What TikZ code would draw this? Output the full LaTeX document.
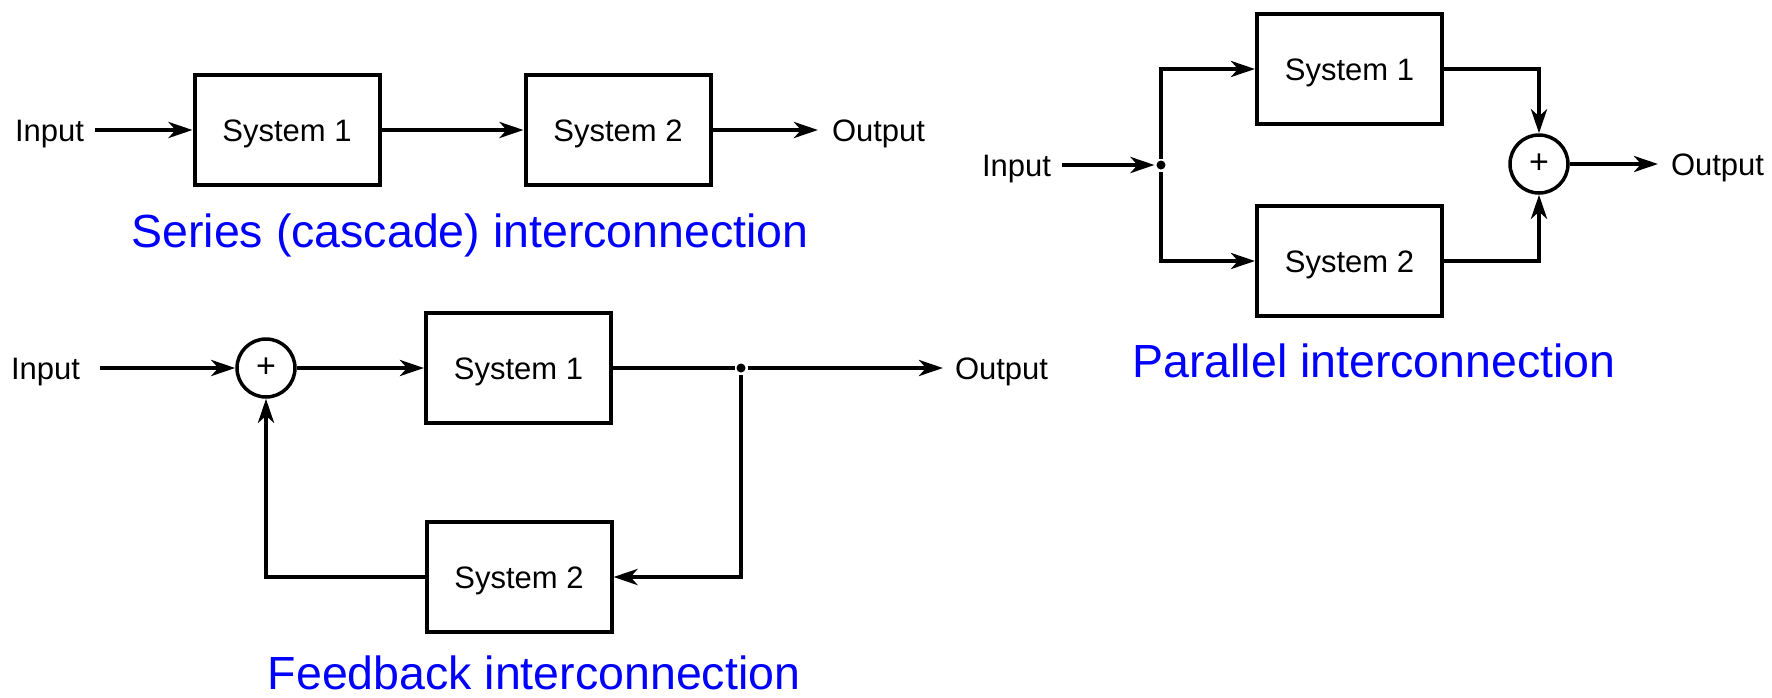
\documentclass[tikz,border=0pt]{standalone}
\usepackage{fontspec}
\setmainfont{Liberation Sans}
\usetikzlibrary{arrows.meta,positioning}

\begin{document}
\begin{tikzpicture}[x=1pt, y=-1pt, line width=4pt,
	sys/.style={draw, minimum width=185pt, minimum height=110pt, inner sep=0pt, text height=22pt, text depth=0pt, font=\fontsize{31}{36}\selectfont},
	lbl/.style={inner sep=0pt, text height=22pt, text depth=0pt, font=\fontsize{31}{36}\selectfont},
	sumnode/.style={draw, circle, minimum size=58pt, inner sep=0pt, line width=3.5pt, font=\fontsize{34}{38}\selectfont},
	dotnode/.style={circle, fill, minimum size=9pt, inner sep=0pt},
	conn/.style={-{Stealth[length=24pt,width=16pt,inset=7pt]}},
	capt/.style={text=blue, inner sep=0pt, text height=33pt, text depth=0pt, font=\fontsize{46.5}{52}\selectfont}]
	\useasboundingbox (0,0) rectangle (1772,697);
	% series
	\node[sys]              (s1)   at (287,130)    {System 1};
	\node[sys]              (s2)   at (618,130)    {System 2};
	\node[lbl, anchor=east] (sin)  at (86,130)     {Input};
	\node[lbl, anchor=west] (sout) at (830,130)    {Output};
	\node[capt]             (scap) at (470,231)    {Series (cascade) interconnection};
	\draw[conn] (sin.east) ++(9,0) -- (s1);
	\draw[conn] (s1) -- (s2);
	\draw[conn] (s2) -- ([xshift=-12pt]sout.west);
	% parallel
	\node[lbl, anchor=east] (pin)  at (1053,165)   {Input};
	\node[dotnode]          (pj)   at (1161,165)   {};
	\node[sys]              (p1)   at (1349.5,69)  {System 1};
	\node[sys]              (p2)   at (1349.5,261) {System 2};
	\node[sumnode]          (ps)   at (1539,164)   {+};
	\node[lbl, anchor=west] (pout) at (1669,164)   {Output};
	\node[capt]             (pcap) at (1374,361)   {Parallel interconnection};
	\draw[conn] (pin.east) ++(9,0) -- (pj);
	\draw[conn] (pj) |- (p1);
	\draw[conn] (pj) |- (p2);
	\draw[conn] (p1) -| (ps);
	\draw[conn] (p2) -| (ps);
	\draw[conn] (ps) -- ([xshift=-11pt]pout.west);
	% feedback
	\node[lbl, anchor=east] (fin)  at (82,368)     {Input};
	\node[sumnode]          (fs)   at (266,368)    {+};
	\node[sys]              (f1)   at (518.5,368)  {System 1};
	\node[sys]              (f2)   at (519,577)    {System 2};
	\node[dotnode]          (fj)   at (741,368)    {};
	\node[lbl, anchor=west] (fout) at (953,368)    {Output};
	\node[capt]             (fcap) at (534,673)    {Feedback interconnection};
	\draw[conn] (fin.east) ++(18,0) -- (fs);
	\draw[conn] (fs) -- (f1);
	\draw       (f1) -- (fj);
	\draw[conn] (fj) -- ([xshift=-10pt]fout.west);
	\draw[conn] (fj) |- (f2);
	\draw[conn] (f2) -| (fs);
\end{tikzpicture}
\end{document}
